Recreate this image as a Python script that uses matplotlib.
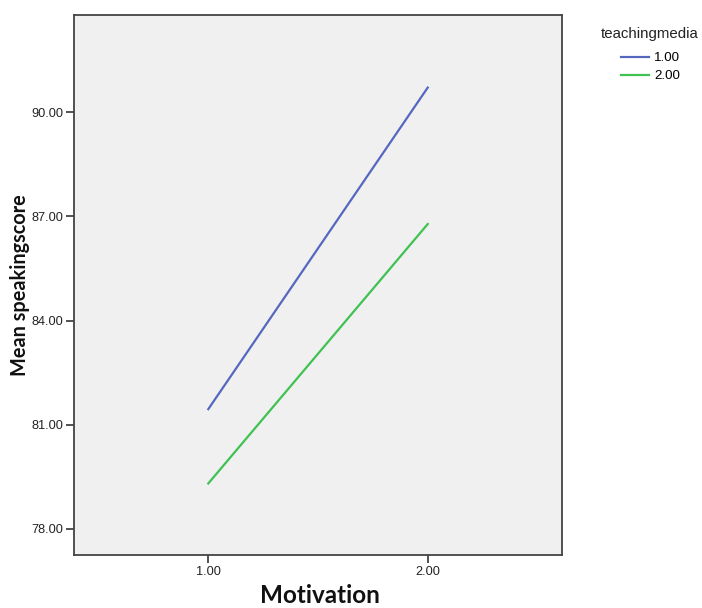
import matplotlib
matplotlib.use("Agg")
import matplotlib.pyplot as plt

# datos
motivation = [1.00, 2.00]
media_levels = ["1.00", "2.00"]
mean_score = {
    "1.00": [81.45, 90.71],
    "2.00": [79.31, 86.78],
}
line_colors = {"1.00": "#5468c0", "2.00": "#3fc252"}
yticks = [78.00, 81.00, 84.00, 87.00, 90.00]
xticks = [1.00, 2.00]

plt.rcParams['font.family'] = ['Liberation Sans', 'DejaVu Sans']

fig = plt.figure(figsize=(7.02, 6.08), dpi=100)
ax = fig.add_axes([0.1054, 0.0872, 0.6952, 0.8881])
ax.set_facecolor('#f0f0f0')

for lvl in media_levels:
    ax.plot(motivation, mean_score[lvl], color=line_colors[lvl], lw=1.6, label=lvl)

ax.set_xlim(0.388, 2.612)
ax.set_ylim(77.25, 92.80)
ax.set_xticks(xticks)
ax.set_xticklabels(["%.2f" % v for v in xticks])
ax.set_yticks(yticks)
ax.set_yticklabels(["%.2f" % v for v in yticks])
ax.tick_params(direction='out', length=6, width=1.2, colors='#333333',
               labelsize=9.2, labelcolor='#222222', pad=2)

for s in ax.spines.values():
    s.set_color('#444444')
    s.set_linewidth(1.3)

# titulos de ejes (fuente tipo Calibri en negrita)
fig.text(0.456, 0.009, "Motivation", fontsize=17.5, fontweight='bold',
         family=['Lato', 'DejaVu Sans'], ha='center', va='baseline', color='#111111')
fig.text(0.029, 0.531, "Mean speakingscore", fontsize=14.3, fontweight='bold',
         family=['Lato', 'DejaVu Sans'], rotation=90, ha='center', va='center',
         color='#111111')

# leyenda: titulo aparte para controlar la posicion
fig.text(0.925, 0.944, "teachingmedia", fontsize=10.8, ha='center', va='center',
         color='#222222')
leg = fig.legend(loc='upper left', bbox_to_anchor=(0.8846, 0.9145), frameon=False,
                 fontsize=9.6, handlelength=2.1, handletextpad=0.4,
                 labelspacing=0.42, borderpad=0, borderaxespad=0)

fig.savefig("out.png", dpi=100)
